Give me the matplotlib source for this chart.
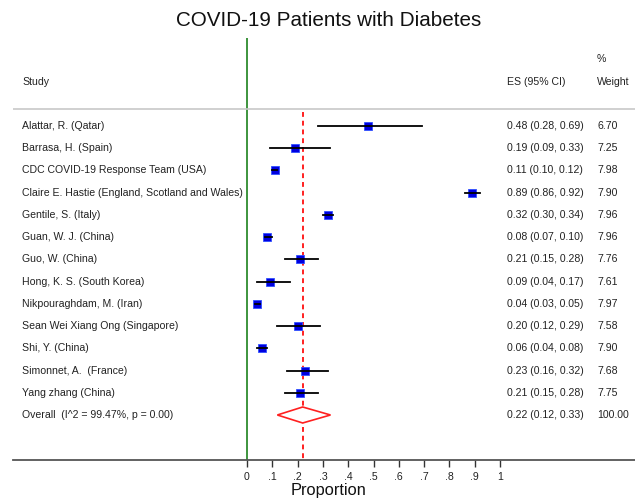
import matplotlib
matplotlib.use("Agg")
import matplotlib.pyplot as plt
import matplotlib.transforms as mtransforms
import numpy as np

plt.rcParams['font.family'] = ['Liberation Sans', 'DejaVu Sans']

studies = ["Alattar, R. (Qatar)", "Barrasa, H. (Spain)", "CDC COVID-19 Response Team (USA)",
           "Claire E. Hastie (England, Scotland and Wales)", "Gentile, S. (Italy)",
           "Guan, W. J. (China)", "Guo, W. (China)", "Hong, K. S. (South Korea)",
           "Nikpouraghdam, M. (Iran)", "Sean Wei Xiang Ong (Singapore)", "Shi, Y. (China)",
           "Simonnet, A.  (France)", "Yang zhang (China)"]
es = [0.48, 0.19, 0.11, 0.89, 0.32, 0.08, 0.21, 0.09, 0.04, 0.20, 0.06, 0.23, 0.21]
lo = [0.28, 0.09, 0.10, 0.86, 0.30, 0.07, 0.15, 0.04, 0.03, 0.12, 0.04, 0.16, 0.15]
hi = [0.69, 0.33, 0.12, 0.92, 0.34, 0.10, 0.28, 0.17, 0.05, 0.29, 0.08, 0.32, 0.28]
weights = [6.70, 7.25, 7.98, 7.90, 7.96, 7.96, 7.76, 7.61, 7.97, 7.58, 7.90, 7.68, 7.75]
overall_label = "Overall  (I^2 = 99.47%, p = 0.00)"
overall_es, overall_lo, overall_hi, overall_w = 0.22, 0.12, 0.33, 100.00
xticks = [0, 0.1, 0.2, 0.3, 0.4, 0.5, 0.6, 0.7, 0.8, 0.9, 1.0]
xticklabels = ["0", ".1", ".2", ".3", ".4", ".5", ".6", ".7", ".8", ".9", "1"]

W, H = 635, 499
fig = plt.figure(figsize=(W / 100, H / 100), dpi=100)
ax_left, ax_right, ax_top, ax_bot = 13, 635, 38, 460
ax = fig.add_axes([ax_left / W, 1 - ax_bot / H, (ax_right - ax_left) / W, (ax_bot - ax_top) / H])

x0px, x1px = 247, 500
scale = x1px - x0px
ax.set_xlim((ax_left - x0px) / scale, (ax_right - x0px) / scale)
row0, rowstep = 126, 22.23
ax.set_ylim((ax_bot - row0) / rowstep, (ax_top - row0) / rowstep)

n = len(studies)
ys = np.arange(n)
oy = n

# green null line
ax.axvline(0, color='#2e8b2e', lw=1.3, zorder=1)
# header separator
hdr_y = (109 - row0) / rowstep
ax.axhline(hdr_y, color='#c8c8c8', lw=1.2, zorder=1)
# overall dashed line
ax.plot([overall_es, overall_es], [hdr_y + 0.15, (ax_bot - row0) / rowstep], color='#ff2020',
        lw=1.4, ls=(0, (2.5, 2.0)), zorder=2)

for i in range(n):
    ms = 6.2 * np.sqrt(weights[i] / 7.98)
    ax.plot(es[i], ys[i], marker='s', ms=ms, color='#0000e0', mec='#3050ff', mew=0.6, zorder=3)
    ax.plot([lo[i], hi[i]], [ys[i], ys[i]], color='black', lw=1.3, zorder=4)

# diamond
dh = 8 / rowstep
ax.fill([overall_lo, overall_es, overall_hi, overall_es, overall_lo],
        [oy, oy - dh, oy, oy + dh, oy], facecolor='white', edgecolor='#ff2020', lw=1.2, zorder=3)

# axes styling
for s in ['top', 'right', 'left']:
    ax.spines[s].set_visible(False)
ax.spines['bottom'].set_color('#555555')
ax.spines['bottom'].set_linewidth(1.3)
ax.set_yticks([])
ax.set_xticks(xticks)
ax.set_xticklabels(xticklabels, fontsize=7.6)
ax.tick_params(axis='x', length=5, width=1, color='#333333', pad=4, labelcolor='#222222')

trans = mtransforms.blended_transform_factory(fig.transFigure, ax.transData)
fs = 7.6
tc = '#222222'
for i in range(n):
    fig.text(22 / W, ys[i], studies[i], transform=trans, fontsize=fs, va='center', color=tc)
    fig.text(507 / W, ys[i], f"{es[i]:.2f} ({lo[i]:.2f}, {hi[i]:.2f})", transform=trans,
             fontsize=fs, va='center', color=tc)
    fig.text(597 / W, ys[i], f"{weights[i]:.2f}", transform=trans, fontsize=fs, va='center', color=tc)
fig.text(22 / W, oy, overall_label, transform=trans, fontsize=fs, va='center', color=tc)
fig.text(507 / W, oy, f"{overall_es:.2f} ({overall_lo:.2f}, {overall_hi:.2f})", transform=trans,
         fontsize=fs, va='center', color=tc)
fig.text(597 / W, oy, f"{overall_w:.2f}", transform=trans, fontsize=fs, va='center', color=tc)

hy = (82 - row0) / rowstep
fig.text(22 / W, hy, "Study", transform=trans, fontsize=fs, va='center', color=tc)
fig.text(507 / W, hy, "ES (95% CI)", transform=trans, fontsize=fs, va='center', color=tc)
fig.text(597 / W, hy, "Weight", transform=trans, fontsize=fs, va='center', color=tc)
fig.text(597 / W, (59 - row0) / rowstep, "%", transform=trans, fontsize=fs, va='center', color=tc)

fig.text(329 / W, 1 - 20 / H, "COVID-19 Patients with Diabetes", fontsize=14.9, ha='center',
         va='center', color='#111111')
fig.text(329 / W, 1 - 490 / H, "Proportion", fontsize=11.8, ha='center', va='center', color='#111111')

fig.savefig("out.png", dpi=100, facecolor='white')
